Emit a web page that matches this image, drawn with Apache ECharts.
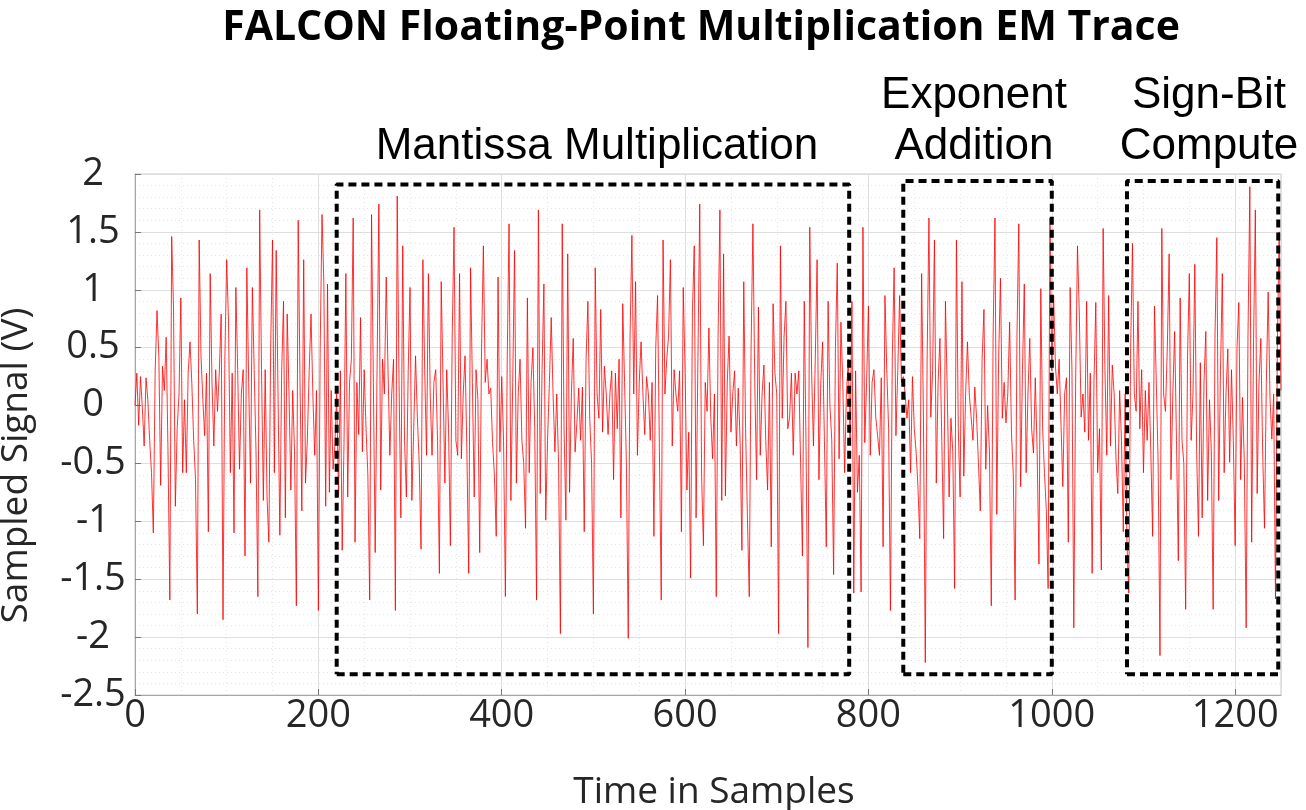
<!DOCTYPE html>
<html>
<head>
<meta charset="utf-8">
<title>FALCON Floating-Point Multiplication EM Trace</title>
<script src="https://cdn.jsdelivr.net/npm/echarts@6/dist/echarts.min.js"></script>
<style>
html, body { margin: 0; padding: 0; background: #fff; }
#chart-trace { width: 1306px; height: 810px; }
</style>
</head>
<body>
<div id="chart-trace"></div>
<script type="text/javascript">
// one value every 2 samples
var sampleStep = 2;
var signal = [
	0.0, 0.28, -0.17, 0.25, -0.02, -0.35, 0.24, 0.05, -0.3, -0.58,
	-1.1, 0.3, 0.82, 0.43, -0.69, 0.34, 0.13, 0.59, -0.4, -1.68,
	1.46, 0.85, -0.87, -0.2, 0.1, 0.93, -0.58, 0.05, -0.58, 0.28,
	0.55, 0.19, -0.3, -0.64, -1.8, 1.43, 0.43, 0.05, -0.26, 0.28,
	-1.09, 1.14, 0.2, -0.35, 0.31, -0.05, 0.3, 0.79, -1.85, 0.4,
	1.26, 0.73, -0.58, 0.28, -1.1, 1.02, 0.31, -0.55, 0.1, 0.31,
	-1.3, 1.19, 0.2, -0.67, 1.02, 0.31, -0.4, -1.65, 1.69, 0.3,
	-0.82, 0.31, -0.79, -1.18, 0.5, 1.43, -0.58, 1.34, 0.1, -1.12,
	0.3, 0.9, -0.97, 0.79, 0.1, -0.73, 0.13, -0.4, -1.73, 1.6,
	0.2, -0.91, 1.26, -0.67, -0.29, 0.3, 0.79, 0.1, -0.43, 0.13,
	-1.77, 0.5, 1.65, 1.05, -0.87, 1.05, -0.75, 0.13, -0.55, -0.35,
	0.1, -0.79, 0.3, -1.25, -0.32, 1.14, -0.79, 0.2, 0.4, 1.62,
	-1.18, 0.2, -0.25, 0.76, -0.4, 0.31, -0.2, -0.6, -1.68, 1.65,
	0.2, -1.27, 0.3, 1.74, -0.73, 0.4, 0.1, 1.11, 0.3, -0.43,
	0.1, 0.4, -1.77, 1.81, 0.2, -0.97, 1.38, -0.3, -0.79, 0.3,
	1.02, -0.82, -0.2, 0.43, -0.1, -0.5, -1.24, 1.26, 0.3, -0.43,
	1.14, 0.1, -0.43, 0.2, 0.31, -0.3, -1.45, 1.07, 0.2, -0.67,
	0.31, -0.2, -1.21, 0.6, 1.54, -0.3, -0.43, 1.14, -0.46, 0.1,
	0.43, -0.4, -1.45, 1.19, 0.2, -0.79, 0.31, 0.05, -1.27, 0.5,
	1.38, 0.2, 0.4, 0.1, 0.15, -0.32, -0.6, -1.13, 1.11, -0.4,
	0.25, -0.3, -1.65, 0.4, 1.57, -0.82, 0.2, 1.34, -0.67, 0.1,
	0.4, -0.3, -0.5, -1.06, 0.93, -0.58, 0.2, 0.5, -0.2, -1.68,
	1.69, -0.76, 0.3, 1.05, -0.99, -0.3, 0.2, 0.76, 0.1, -0.4,
	0.1, -0.5, -1.97, 1.57, -0.2, -0.99, 1.31, -0.75, 0.1, 0.58,
	-0.4, -0.15, 0.15, -0.3, 0.16, -1.09, 0.4, 0.9, -0.11, -0.5,
	-1.8, 1.19, 0.1, -0.11, 0.83, -0.23, 0.34, 0.1, -0.25, 0.1,
	0.3, -0.64, 0.28, -0.2, 0.4, -0.97, 0.88, 0.2, -0.5, -2.01,
	0.6, 1.47, 0.1, 1.07, -0.43, 0.2, 0.55, 0.1, -0.25, 0.25,
	0.1, -0.3, 0.2, -1.13, 0.5, 0.95, -0.4, -1.68, 1.43, 0.1,
	0.4, 0.6, 1.26, -0.35, 0.31, 0.1, -0.05, 0.3, -1.09, 1.02,
	0.3, -0.73, -0.23, -1.49, 0.8, 1.38, -0.97, 0.4, 1.74, -0.6,
	-1.21, 0.2, -0.05, 0.67, -0.1, -0.46, 0.1, -1.65, 0.6, 1.69,
	-0.82, 1.31, -0.78, 0.2, 0.6, -0.23, 0.1, 0.3, -0.35, 0.15,
	-0.3, -1.25, 1.07, -0.2, -0.97, -1.65, 0.5, 1.57, 0.2, -0.64,
	0.85, -0.43, 0.1, 0.35, -0.3, -0.73, 0.2, -1.22, 0.88, 0.28,
	0.1, -1.97, 1.38, -0.11, 0.6, 0.9, -0.2, -0.1, 0.28, -0.43,
	0.28, 0.1, 0.3, -0.5, -1.3, 0.9, -0.4, -2.09, 1.54, 0.3,
	-0.35, 0.4, 1.26, -0.64, 0.2, 0.55, -0.3, -1.22, 0.9, 0.0,
	-0.3, -1.46, 0.5, 1.23, -0.46, 0.72, 0.2, -0.58, 0.1, 0.4,
	-0.3, 0.9, -1.62, 0.3, -0.75, -0.43, -1.61, 1.54, -0.32, 0.2,
	0.86, -0.43, 0.2, 0.31, -0.1, -0.26, -0.43, 0.24, -1.22, 0.95,
	0.31, -0.2, -1.77, 0.4, 1.19, -0.26, 0.3, 0.95, 0.2, 0.25,
	0.1, -0.11, 0.05, -0.58, 0.25, -0.2, -0.4, -0.7, -1.15, 1.14,
	-0.1, -2.22, 0.4, 1.62, -0.1, 0.3, 1.43, -0.67, 0.2, 0.58,
	-0.3, -1.15, 0.9, 0.1, -0.79, -0.11, -0.4, -1.58, 1.43, -0.2,
	-0.79, 1.07, -0.61, 0.1, 0.55, 0.1, 0.1, -0.3, 0.16, -0.11,
	-0.5, -0.91, 0.4, 0.83, -0.55, 0.0, -0.4, -1.73, 0.6, 1.62,
	-0.94, 0.4, 1.1, -0.11, 0.2, -0.15, 0.1, 0.72, -0.23, -0.6,
	-1.68, 0.6, 1.57, -0.7, 0.3, 1.05, -0.58, 0.1, 0.58, -0.2,
	-0.41, 0.24, -0.4, -1.37, 1.01, -0.2, -0.58, -0.9, -1.58, 1.62,
	0.3, 0.95, 0.34, 0.1, 0.4, 0.4, -0.7, 0.1, 0.24, -1.18,
	1.02, 0.3, -1.92, 0.2, 1.38, 0.79, -0.1, 0.1, -0.23, 0.9,
	-0.3, 0.28, -1.45, 0.2, 0.89, -0.58, -0.2, -1.42, 1.53, 0.3,
	-0.43, 0.95, -0.35, 0.35, 0.1, -0.46, -0.76, 0.13, -0.3, -1.09,
	0.1, -1.2, -1.62, 0.5, 1.4, 0.1, -0.05, 0.9, -0.2, 0.31,
	-0.58, 0.13, -0.3, 0.2, -0.4, -1.13, 0.86, 0.2, -0.5, -2.16,
	1.53, 0.1, -0.05, 0.5, 1.31, -0.64, 0.1, 0.64, -0.3, -1.34,
	0.93, -0.3, -0.5, -1.76, 0.4, 1.14, -0.3, 0.1, 1.22, -0.4,
	-1.13, 0.37, -0.97, 0.2, 0.64, -0.82, 0.05, -0.4, -1.76, 0.6,
	1.45, -0.82, 0.3, 1.14, -0.58, 0.1, 0.49, -0.49, 0.31, -0.3,
	-1.21, 0.5, 0.89, -0.64, 0.07, -0.5, -1.92, 0.6, 1.89, -1.18,
	0.5, 1.69, -0.76, 0.2, 0.58, -0.4, -1.06, 0.2, 0.98, 0.07,
	-0.29, 0.1, -1.67, 0.5, 1.5, 0.13
];

// dashed region boxes: [xStart, xEnd, yBottom, yTop]
var boxMantissa = [220, 779, -2.32, 1.91];
var boxExponent = [838, 1000, -2.32, 1.94];
var boxSignBit = [1082, 1247, -2.32, 1.94];
var boxLabels = [['Mantissa Multiplication'], ['Exponent', 'Addition'], ['Sign-Bit', 'Compute']];
var boxLabelX = [597, 974, 1209];

var xMax = 1250;
var yMin = -2.5, yMax = 2;

var font = '"Open Sans", "Noto Sans", sans-serif';
var captionFont = '"Liberation Sans", Arial, sans-serif';

function boxPath(b) {
	return [[b[0], b[2]], [b[1], b[2]], [b[1], b[3]], [b[0], b[3]], [b[0], b[2]]];
}

var traceData = [];
for (var i = 0; i < signal.length; i++) {
	traceData.push([i * sampleStep, signal[i]]);
}

var boxList = [boxMantissa, boxExponent, boxSignBit];
var series = [{
	name: 'trace',
	type: 'line',
	data: traceData,
	symbol: 'none',
	sampling: null,
	lineStyle: { color: '#ff0000', width: 0.8 },
	z: 2
}];
boxList.forEach(function(b, k) {
	series.push({
		name: 'box' + k,
		type: 'line',
		data: boxPath(b),
		symbol: 'none',
		lineStyle: { color: '#000', width: 4, type: [8, 5], cap: 'butt' },
		z: 3
	});
});

// title and region captions
var graphics = [{
	type: 'text',
	x: 701,
	y: 28,
	style: {
		text: 'FALCON Floating-Point Multiplication EM Trace',
		fontFamily: font,
		fontSize: 41,
		fontWeight: 'bold',
		fill: '#000',
		textAlign: 'center',
		textVerticalAlign: 'middle'
	}
}];
boxLabels.forEach(function(lines, k) {
	lines.forEach(function(t, j) {
		graphics.push({
			type: 'text',
			x: boxLabelX[k],
			y: 147 - (lines.length - 1 - j) * 51,
			style: {
				text: t,
				fontFamily: captionFont,
				fontSize: 44,
				fill: '#000',
				textAlign: 'center',
				textVerticalAlign: 'middle'
			}
		});
	});
});

var option = {
	animation: false,
	backgroundColor: '#fff',
	grid: {
		left: 135,
		right: 25,
		top: 174,
		bottom: 115,
		containLabel: false,
		outerBoundsMode: 'none',
		show: true,
		borderColor: '#c8c8c8',
		borderWidth: 1
	},
	xAxis: {
		type: 'value',
		min: 0,
		max: xMax,
		interval: 200,
		name: 'Time in Samples',
		nameLocation: 'middle',
		nameGap: 79,
		nameTextStyle: { fontFamily: font, fontSize: 37, color: '#262626', padding: [0, 0, 0, 12] },
		axisLine: { show: true, onZero: false, lineStyle: { color: '#a6a6a6' } },
		axisTick: { show: true, inside: true, length: 6, lineStyle: { color: '#777' } },
		axisLabel: {
			fontFamily: font, fontSize: 38, color: '#262626', margin: 2, showMaxLabel: false,
			formatter: function(v) { return String(v); }
		},
		splitLine: { show: true, lineStyle: { color: '#dedede', width: 1 } },
		minorTick: { show: false, splitNumber: 4 },
		minorSplitLine: { show: true, lineStyle: { color: '#e6e6e6', type: [1, 3] } }
	},
	yAxis: {
		type: 'value',
		min: yMin,
		max: yMax,
		interval: 0.5,
		name: 'Sampled Signal (V)',
		nameLocation: 'middle',
		nameGap: 100,
		nameTextStyle: { fontFamily: font, fontSize: 37, color: '#262626', padding: [0, 62, 0, 0] },
		axisLine: { show: true, lineStyle: { color: '#a6a6a6' } },
		axisTick: { show: true, inside: true, length: 6, lineStyle: { color: '#777' } },
		axisLabel: { fontFamily: font, fontSize: 38, color: '#262626', margin: 42, align: 'center' },
		splitLine: { show: true, lineStyle: { color: '#dedede', width: 1 } },
		minorTick: { show: false, splitNumber: 5 },
		minorSplitLine: { show: true, lineStyle: { color: '#e6e6e6', type: [1, 3] } }
	},
	graphic: graphics,
	series: series
};

var myChart = echarts.init(document.getElementById('chart-trace'), null, { renderer: 'canvas' });
myChart.setOption(option);
</script>
</body>
</html>
